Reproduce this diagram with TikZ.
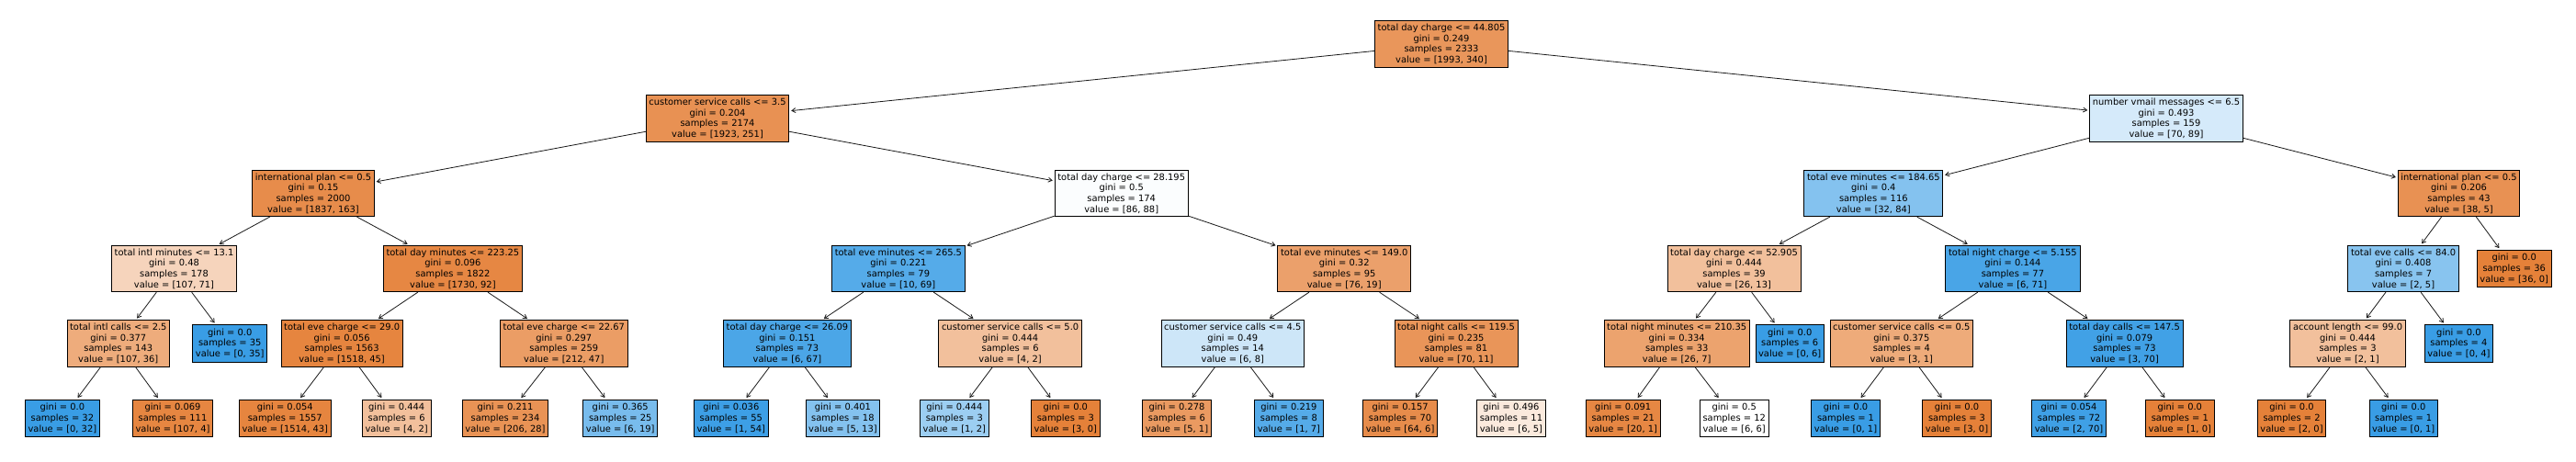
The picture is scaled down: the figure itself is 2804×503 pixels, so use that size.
\documentclass[tikz,border=0pt]{standalone}
\usepackage{fontspec}
\setmainfont{DejaVu Sans}
\usetikzlibrary{arrows.meta}
\definecolor{cA}{RGB}{229,129,57}
\definecolor{cB}{RGB}{57,157,229}
\tikzset{
  nd/.style={draw=black, line width=0.8pt, align=center, inner xsep=3.2pt, inner ysep=1pt,
    minimum height=50.5pt, font=\fontsize{9.9}{11.7}\selectfont},
  lf/.style={nd, minimum height=40.5pt},
  edge/.style={draw=black!90, line width=0.8pt, -{Straight Barb[length=4pt,width=5pt]}, shorten >=2pt}
}
\begin{document}
\begin{tikzpicture}[x=1pt,y=-1pt]
\useasboundingbox[fill=white] (0,0) rectangle (2804,503);
% level 0
\node[nd, fill=cA!83!white] (r) at (1569,48) {total day charge <= 44.805\\gini = 0.249\\samples = 2333\\value = [1993, 340]};
% level 1
\node[nd, fill=cA!87!white] (a) at (781,128.8) {customer service calls <= 3.5\\gini = 0.204\\samples = 2174\\value = [1923, 251]};
\node[nd, fill=cB!21!white] (b) at (2358,128.8) {number vmail messages <= 6.5\\gini = 0.493\\samples = 159\\value = [70, 89]};
% level 2
\node[nd, fill=cA!91!white] (aa) at (341,210.5) {international plan <= 0.5\\gini = 0.15\\samples = 2000\\value = [1837, 163]};
\node[nd, fill=cB!2!white] (ab) at (1220.7,210.5) {total day charge <= 28.195\\gini = 0.5\\samples = 174\\value = [86, 88]};
\node[nd, fill=cB!62!white] (ba) at (2039.3,210.5) {total eve minutes <= 184.65\\gini = 0.4\\samples = 116\\value = [32, 84]};
\node[nd, fill=cA!87!white] (bb) at (2676.5,210.5) {international plan <= 0.5\\gini = 0.206\\samples = 43\\value = [38, 5]};
% level 3
\node[nd, fill=cA!34!white] (aaa) at (189.5,292.5) {total intl minutes <= 13.1\\gini = 0.48\\samples = 178\\value = [107, 71]};
\node[nd, fill=cA!95!white] (aab) at (492.9,292.5) {total day minutes <= 223.25\\gini = 0.096\\samples = 1822\\value = [1730, 92]};
\node[nd, fill=cB!86!white] (aba) at (977.9,292.5) {total eve minutes <= 265.5\\gini = 0.221\\samples = 79\\value = [10, 69]};
\node[nd, fill=cA!75!white] (abb) at (1463.2,292.5) {total eve minutes <= 149.0\\gini = 0.32\\samples = 95\\value = [76, 19]};
\node[nd, fill=cA!50!white] (baa) at (1887.5,292.5) {total day charge <= 52.905\\gini = 0.444\\samples = 39\\value = [26, 13]};
\node[nd, fill=cB!92!white] (bab) at (2190.9,292.5) {total night charge <= 5.155\\gini = 0.144\\samples = 77\\value = [6, 71]};
\node[nd, fill=cB!60!white] (bba) at (2616,292.5) {total eve calls <= 84.0\\gini = 0.408\\samples = 7\\value = [2, 5]};
\node[lf, fill=cA] (bbb) at (2736.7,292.5) {gini = 0.0\\samples = 36\\value = [36, 0]};
% level 4
\node[nd, fill=cA!66!white] (aaaa) at (128.8,373.8) {total intl calls <= 2.5\\gini = 0.377\\samples = 143\\value = [107, 36]};
\node[lf, fill=cB] (aaab) at (250.2,373.8) {gini = 0.0\\samples = 35\\value = [0, 35]};
\node[nd, fill=cA!97!white] (aaba) at (372.1,373.8) {total eve charge <= 29.0\\gini = 0.056\\samples = 1563\\value = [1518, 45]};
\node[nd, fill=cA!78!white] (aabb) at (613.8,373.8) {total eve charge <= 22.67\\gini = 0.297\\samples = 259\\value = [212, 47]};
\node[nd, fill=cB!91!white] (abaa) at (856.9,373.8) {total day charge <= 26.09\\gini = 0.151\\samples = 73\\value = [6, 67]};
\node[nd, fill=cA!50!white] (abab) at (1099.6,373.8) {customer service calls <= 5.0\\gini = 0.444\\samples = 6\\value = [4, 2]};
\node[nd, fill=cB!25!white] (abba) at (1341.8,373.8) {customer service calls <= 4.5\\gini = 0.49\\samples = 14\\value = [6, 8]};
\node[nd, fill=cA!84!white] (abbb) at (1585,373.8) {total night calls <= 119.5\\gini = 0.235\\samples = 81\\value = [70, 11]};
\node[nd, fill=cA!73!white] (baaa) at (1825.2,373.8) {total night minutes <= 210.35\\gini = 0.334\\samples = 33\\value = [26, 7]};
\node[lf, fill=cB] (baab) at (1948.2,373.8) {gini = 0.0\\samples = 6\\value = [0, 6]};
\node[nd, fill=cA!67!white] (baba) at (2069.8,373.8) {customer service calls <= 0.5\\gini = 0.375\\samples = 4\\value = [3, 1]};
\node[nd, fill=cB!96!white] (babb) at (2312.6,373.8) {total day calls <= 147.5\\gini = 0.079\\samples = 73\\value = [3, 70]};
\node[nd, fill=cA!50!white] (bbaa) at (2555.5,373.8) {account length <= 99.0\\gini = 0.444\\samples = 3\\value = [2, 1]};
\node[lf, fill=cB] (bbab) at (2676.4,373.8) {gini = 0.0\\samples = 4\\value = [0, 4]};
% level 5
\node[lf, fill=cB] (l1) at (67.9,455.3) {gini = 0.0\\samples = 32\\value = [0, 32]};
\node[lf, fill=cA!96!white] (l2) at (188,455.3) {gini = 0.069\\samples = 111\\value = [107, 4]};
\node[lf, fill=cA!97!white] (l3) at (310.3,455.3) {gini = 0.054\\samples = 1557\\value = [1514, 43]};
\node[lf, fill=cA!50!white] (l4) at (431.7,455.3) {gini = 0.444\\samples = 6\\value = [4, 2]};
\node[lf, fill=cA!86!white] (l5) at (550,455.3) {gini = 0.211\\samples = 234\\value = [206, 28]};
\node[lf, fill=cB!68!white] (l6) at (675.2,455.3) {gini = 0.365\\samples = 25\\value = [6, 19]};
\node[lf, fill=cB!98!white] (l7) at (795.8,455.3) {gini = 0.036\\samples = 55\\value = [1, 54]};
\node[lf, fill=cB!62!white] (l8) at (917.4,455.3) {gini = 0.401\\samples = 18\\value = [5, 13]};
\node[lf, fill=cB!50!white] (l9) at (1038.8,455.3) {gini = 0.444\\samples = 3\\value = [1, 2]};
\node[lf, fill=cA] (l10) at (1159.8,455.3) {gini = 0.0\\samples = 3\\value = [3, 0]};
\node[lf, fill=cA!80!white] (l11) at (1281,455.3) {gini = 0.278\\samples = 6\\value = [5, 1]};
\node[lf, fill=cB!86!white] (l12) at (1402.9,455.3) {gini = 0.219\\samples = 8\\value = [1, 7]};
\node[lf, fill=cA!91!white] (l13) at (1524.1,455.3) {gini = 0.157\\samples = 70\\value = [64, 6]};
\node[lf, fill=cA!17!white] (l14) at (1644.9,455.3) {gini = 0.496\\samples = 11\\value = [6, 5]};
\node[lf, fill=cA!95!white] (l15) at (1766.7,455.3) {gini = 0.091\\samples = 21\\value = [20, 1]};
\node[lf, fill=white] (l16) at (1887.7,455.3) {gini = 0.5\\samples = 12\\value = [6, 6]};
\node[lf, fill=cB] (l17) at (2009,455.3) {gini = 0.0\\samples = 1\\value = [0, 1]};
\node[lf, fill=cA] (l18) at (2130,455.3) {gini = 0.0\\samples = 3\\value = [3, 0]};
\node[lf, fill=cB!97!white] (l19) at (2252,455.3) {gini = 0.054\\samples = 72\\value = [2, 70]};
\node[lf, fill=cA] (l20) at (2372.8,455.3) {gini = 0.0\\samples = 1\\value = [1, 0]};
\node[lf, fill=cA] (l21) at (2494.5,455.3) {gini = 0.0\\samples = 2\\value = [2, 0]};
\node[lf, fill=cB] (l22) at (2616.2,455.3) {gini = 0.0\\samples = 1\\value = [0, 1]};
% edges
\foreach \p/\c in {r/a, r/b, a/aa, a/ab, b/ba, b/bb,
  aa/aaa, aa/aab, ab/aba, ab/abb, ba/baa, ba/bab, bb/bba, bb/bbb,
  aaa/aaaa, aaa/aaab, aab/aaba, aab/aabb, aba/abaa, aba/abab, abb/abba, abb/abbb,
  baa/baaa, baa/baab, bab/baba, bab/babb, bba/bbaa, bba/bbab,
  aaaa/l1, aaaa/l2, aaba/l3, aaba/l4, aabb/l5, aabb/l6, abaa/l7, abaa/l8,
  abab/l9, abab/l10, abba/l11, abba/l12, abbb/l13, abbb/l14, baaa/l15, baaa/l16,
  baba/l17, baba/l18, babb/l19, babb/l20, bbaa/l21, bbaa/l22}
  \draw[edge] (\p) -- (\c);
\end{tikzpicture}
\end{document}
